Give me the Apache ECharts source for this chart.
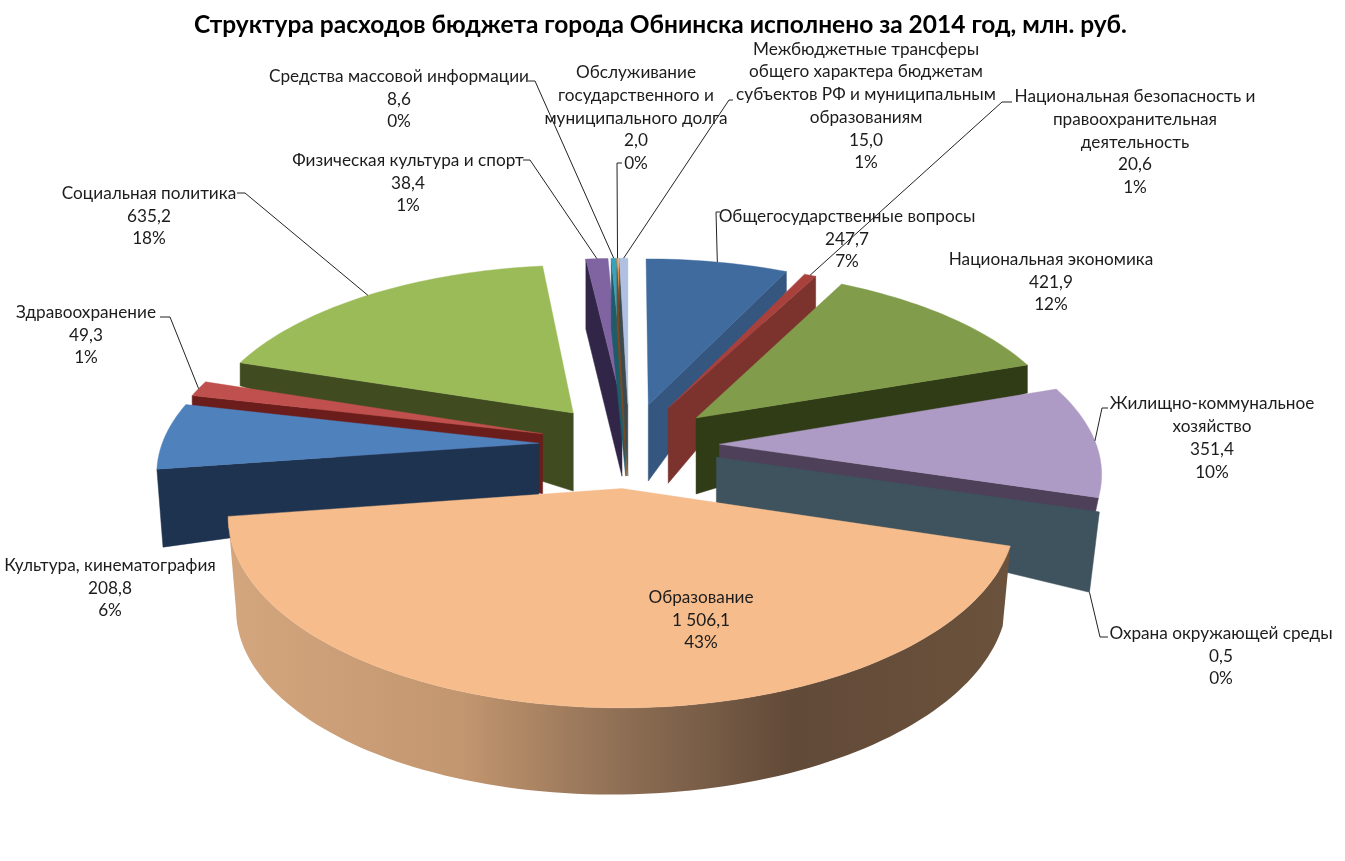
<!DOCTYPE html>
<html><head><meta charset="utf-8">
<style>html,body{margin:0;padding:0;background:#fff}#c{width:1345px;height:861px}</style>
<script src="https://cdn.jsdelivr.net/npm/echarts@6/dist/echarts.min.js"></script>
</head><body><div id="c"></div>
<script>
// ---- data
const titleText = 'Структура расходов бюджета города Обнинска исполнено за 2014 год, млн. руб.';
const names = ['Общегосударственные вопросы','Национальная безопасность и\nправоохранительная\nдеятельность','Национальная экономика','Жилищно-коммунальное\nхозяйство','Охрана окружающей среды','Образование','Культура, кинематография','Здравоохранение','Социальная политика','Физическая культура и спорт','Средства массовой информации','Обслуживание\nгосударственного и\nмуниципального долга','Межбюджетные трансферы\nобщего характера бюджетам\nсубъектов РФ и муниципальным\nобразованиям'];
const values = [247.7,20.6,421.9,351.4,0.5,1506.1,208.8,49.3,635.2,38.4,8.6,2.0,15.0];
const percents = [7,1,12,10,0,43,6,1,18,1,0,0,1];

// ---- styles and layout (by slice index)
const topColors = ['#3f6b9e','#a8403c','#819c4a','#ae9bc5','#3e535d','#f6bc8c','#4f81bd','#c0504d','#9bbb59','#8064a2','#36a3bb','#f79646','#b0c0e0'];
const wallColors = ['#34567f','#7c322d','#303c15','#4e4059','#3e535d','#8f6f55','#1d334f','#6b1d1c','#404c20','#322648','#1e5c6c','#7a4a20','#3c4a50'];
// which radial wall shows, depth at apex, depth at rim, x shrink of the lower edge
const wallSide = ['end','end','end','end','end',null,'start','start','start','start','start','start','start'];
const wallApex = [76,75,76,45,45,0,52,60,78,72,72,72,72];
const wallRim  = [20,32,28,45,80,0,78,35,23,70,70,70,70];
const wallXs   = [1,1,1,.98,.979,1,.987,1,1,1,1,1,1];
const drawOrder = [8,7,6,9,10,11,12,0,1,2,3,4,5];
const eduWall = {start:80,end:94,xs:.98};
const eduStops = [[0,'#d3a67e'],[.3,'#c2966f'],[.5,'#8f6f55'],[.72,'#614a38'],[1,'#6b523c']];
const labelX = [847,1135,1051,1212,1221,701,110,86,149,408,399,636,866];
const labelY = [239,142,282,438,656,620,588,335,216,183,99,118,106];
// elbow points of the leader lines, the last point is found from the slice itself
const leaders = [[[720,212],[716,212]],[[1012,102],[1002,102]],null,[[1108,408],[1102,408]],[[1108,637],[1100,637]],null,null,[[160,317],[170,317]],[[237,193],[245,193]],[[523,160],[530,160]],[[528,81],[535,81]],[[622,163],[617,163]],[[733,100],[729,100]]];
// projection of the pie plane
const cam = {cx:629,cy:445,A:377,B:176.2,k:.1366,explode:.24};

const total = values.reduce((a,b)=>a+b,0);
const fmt = v => { const s=v.toFixed(1).replace('.',','); return s.replace(/\B(?=(\d{3})+(?!\d))(?=.*,)/g,' '); };
const rad = d => d*Math.PI/180;
let acc = 0;
const rows = values.map((v,i)=>{const a0=acc/total*360; acc+=v; return [i,a0,acc/total*360];});

function proj(X,Y){const s=1/(1-cam.k*Y);return [cam.cx+cam.A*X*s,cam.cy+cam.B*Y*s];}
function pt(th,r,mid){
  const X=r*Math.sin(rad(th))+cam.explode*Math.sin(rad(mid));
  const Y=-r*Math.cos(rad(th))-cam.explode*Math.cos(rad(mid));
  return proj(X,Y);
}
function low(p,d,xs){return [cam.cx+(p[0]-cam.cx)*xs,p[1]+d];}
function arc(a0,a1,mid){const pts=[];const n=Math.max(1,Math.ceil((a1-a0)/1.5));for(let j=0;j<=n;j++)pts.push(pt(a0+(a1-a0)*j/n,1,mid));return pts;}

function renderSlice(params,api){
  const i=api.value(0),a0=api.value(1),a1=api.value(2),mid=(a0+a1)/2;
  const ch=[];
  const apex=pt(0,0,mid);
  const side=wallSide[i];
  if(side){
    const rim=pt(side==='end'?a1:a0,1,mid);
    ch.push({type:'polygon',shape:{points:[apex,rim,low(rim,wallRim[i],wallXs[i]),low(apex,wallApex[i],1)]},style:{fill:wallColors[i],stroke:wallColors[i],lineWidth:.5}});
  } else {
    const pts=arc(a0,a1,mid);
    const lows=pts.map((p,j)=>low(p,eduWall.start+(eduWall.end-eduWall.start)*j/(pts.length-1),eduWall.xs)).reverse();
    ch.push({type:'polygon',shape:{points:pts.concat(lows)},style:{fill:new echarts.graphic.LinearGradient(0,0,1,0,eduStops.map(s=>({offset:s[0],color:s[1]})))}});
  }
  ch.push({type:'polygon',shape:{points:[apex].concat(arc(a0,a1,mid))},style:{fill:topColors[i],stroke:topColors[i],lineWidth:.4}});
  return {type:'group',children:ch};
}
function renderLabel(params,api){
  const i=api.value(0),a0=api.value(1),a1=api.value(2),mid=(a0+a1)/2;
  const ch=[];
  if(leaders[i]){
    let end=pt(mid,1,mid);
    if(wallSide[i]==='end'&&i===4){end=low(pt(a1,1,mid),wallRim[i],wallXs[i]);}
    ch.push({type:'polyline',shape:{points:leaders[i].concat([end])},style:{fill:null,stroke:'#222',lineWidth:1}});
  }
  ch.push({type:'text',style:{x:labelX[i],y:labelY[i],text:names[i]+'\n'+fmt(values[i])+'\n'+percents[i]+'%',align:'center',verticalAlign:'middle',fill:'#1c1c1c',font:'17.2px Lato',lineHeight:22.7}});
  return {type:'group',children:ch};
}
const chart=echarts.init(document.getElementById('c'));
chart.setOption({
  animation:false,
  backgroundColor:'#fff',
  title:{text:titleText,left:655.5,top:20,textAlign:'center',textVerticalAlign:'middle',textStyle:{fontFamily:'Lato',fontWeight:'bold',fontSize:24.5,color:'#000'}},
  series:[
    {type:'custom',coordinateSystem:'none',silent:true,renderItem:renderSlice,data:drawOrder.map(i=>rows[i])},
    {type:'custom',coordinateSystem:'none',silent:true,renderItem:renderLabel,data:rows}
  ]
});
</script></body></html>
